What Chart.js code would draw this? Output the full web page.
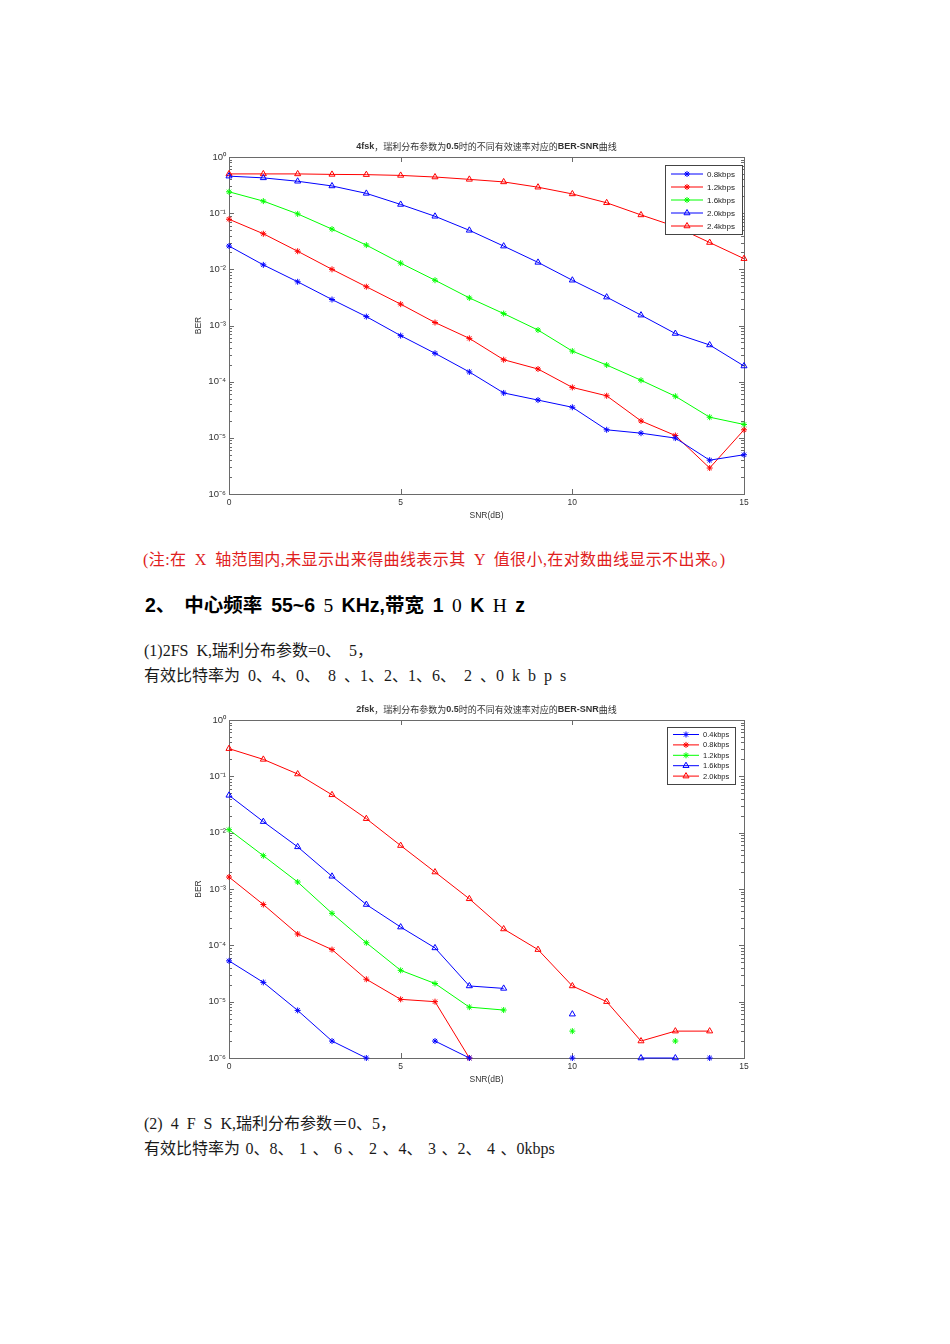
<!DOCTYPE html>
<html>
<head>
<meta charset="utf-8">
<script src="https://cdn.jsdelivr.net/npm/chart.js@4.4.1/dist/chart.umd.min.js"></script>
<style>
  body { margin: 0; background: #fff; width: 950px; height: 1344px; position: relative; overflow: hidden; }
  .t { position: absolute; white-space: pre; font-family: "Liberation Serif", "Noto Sans CJK SC", serif; font-size: 16px; line-height: 16px; word-spacing: 4px; color: #1a1a1a; }
  .h { font-family: "Liberation Sans", "Noto Sans CJK SC", sans-serif; font-weight: bold; font-size: 19.5px; line-height: 20px; word-spacing: 3.5px; color: #000; }
  .h .s { font-family: "Liberation Serif", serif; font-weight: normal; }
  .red { color: #e02020; letter-spacing: 0.4px; }
  .wrap { position: absolute; }
</style>
</head>
<body>

<div class="wrap" style="left:180px;top:136px;width:590px;height:392px"><canvas id="c1"></canvas></div>
<div class="wrap" style="left:180px;top:699px;width:590px;height:393px"><canvas id="c2"></canvas></div>

<div class="t red" style="left:143px;top:552px">(注:在 X 轴范围内,未显示出来得曲线表示其 Y 值很小,在对数曲线显示不出来。)</div>
<div class="t h" style="left:145px;top:595px">2、 中心频率 55~6<span class="s"> 5 </span>KHz,带宽 1<span class="s"> 0 </span>K<span class="s"> H </span>z</div>
<div class="t" style="left:144px;top:643px">(1)2FS K,瑞利分布参数=0、 5，</div>
<div class="t" style="left:144px;top:668px">有效比特率为 0、4、0、 8 、1、2、1、6、 2 、0 k b p s</div>
<div class="t" style="left:144px;top:1116px">(2) 4 F S K,瑞利分布参数＝0、5，</div>
<div class="t" style="left:144px;top:1141px;word-spacing:1.5px">有效比特率为 0、8、 1 、 6 、 2 、4、 3 、2、 4 、0kbps</div>

<script>
// SNR axis (dB)
const snrDb = [0, 1, 2, 3, 4, 5, 6, 7, 8, 9, 10, 11, 12, 13, 14, 15];

// 4fsk, Rayleigh 0.5
const rates4fsk = ['0.8kbps', '1.2kbps', '1.6kbps', '2.0kbps', '2.4kbps'];
const ber4_08 = [0.026, 0.012, 0.006, 0.0029, 0.00144, 0.00066, 0.00032, 0.000149, 6.3e-5, 4.7e-5, 3.5e-5, 1.39e-5, 1.21e-5, 9.9e-6, 4e-6, 5e-6];
const ber4_12 = [0.078, 0.043, 0.021, 0.01, 0.0049, 0.0024, 0.00113, 0.00059, 0.000246, 0.000168, 7.9e-5, 5.6e-5, 2e-5, 1.1e-5, 2.9e-6, 1.39e-5];
const ber4_16 = [0.24, 0.164, 0.097, 0.052, 0.027, 0.0129, 0.0064, 0.0031, 0.00163, 0.00083, 0.00035, 0.000198, 0.000106, 5.5e-5, 2.33e-5, 1.73e-5];
const ber4_20 = [0.456, 0.425, 0.37, 0.305, 0.225, 0.143, 0.088, 0.0495, 0.0259, 0.0133, 0.0064, 0.0032, 0.00153, 0.00072, 0.00045, 0.00019];
const ber4_24 = [0.5, 0.5, 0.5, 0.49, 0.485, 0.47, 0.44, 0.4, 0.36, 0.29, 0.22, 0.153, 0.093, 0.058, 0.03, 0.0155];

// 2fsk, Rayleigh 0.5 (null = not shown on the log axis)
const rates2fsk = ['0.4kbps', '0.8kbps', '1.2kbps', '1.6kbps', '2.0kbps'];
const ber2_04 = [5.3e-5, 2.2e-5, 7e-6, 2e-6, 1e-6, null, 2e-6, 1e-6, null, null, 1e-6, null, null, null, 1e-6, null];
const ber2_08 = [0.00163, 0.00053, 0.000159, 8.4e-5, 2.5e-5, 1.1e-5, 1e-5, 1e-6, null, null, null, null, null, null, null, null];
const ber2_12 = [0.0113, 0.0039, 0.00133, 0.00037, 0.000111, 3.6e-5, 2.1e-5, 8e-6, 7.1e-6, null, 3e-6, null, null, 2e-6, null, null];
const ber2_16 = [0.046, 0.0157, 0.0056, 0.00168, 0.00053, 0.000211, 9e-5, 1.9e-5, 1.72e-5, null, 6e-6, null, 1e-6, 1e-6, null, null];
const ber2_20 = [0.31, 0.2, 0.11, 0.047, 0.0177, 0.0059, 0.002, 0.00067, 0.000195, 8.4e-5, 1.9e-5, 1e-5, 2e-6, 3e-6, 3e-6, null];

const decades = [-6, -5, -4, -3, -2, -1, 0];

const seriesStyle = [
  { color: '#0000ff', point: 'star', r: 3 },
  { color: '#ff0000', point: 'star', r: 3 },
  { color: '#00ff00', point: 'star', r: 3 },
  { color: '#0000ff', point: 'triangle', r: 3.5 },
  { color: '#ff0000', point: 'triangle', r: 3.5 },
];

const AXIS = '#6a6a6a';
const SANS = '"Liberation Sans", Arial, sans-serif';
const SUP = { '-': '\u207B', '0': '\u2070', '1': '\u00B9', '2': '\u00B2', '3': '\u00B3', '4': '\u2074', '5': '\u2075', '6': '\u2076', '7': '\u2077', '8': '\u2078', '9': '\u2079' };
const pow10Label = v => '10' + String(Math.round(Math.log10(v))).split('').map(c => SUP[c]).join('');

// box + inside ticks like a matlab axes
const axesBox = {
  id: 'axesBox',
  beforeDatasetsDraw(chart) {
    const { ctx, chartArea: a, scales: { x, y } } = chart;
    ctx.save();
    ctx.strokeStyle = AXIS;
    ctx.lineWidth = 1;
    ctx.beginPath();
    for (const t of x.ticks) {
      const px = Math.round(x.getPixelForValue(t.value)) + 0.5;
      ctx.moveTo(px, a.bottom); ctx.lineTo(px, a.bottom - 5);
      ctx.moveTo(px, a.top); ctx.lineTo(px, a.top + 5);
    }
    for (const e of decades) {
      for (let m = 1; m <= 9; m++) {
        const v = m * Math.pow(10, e);
        if (v > 1) break;
        const len = m === 1 ? 5 : 3;
        const py = Math.round(y.getPixelForValue(v)) + 0.5;
        ctx.moveTo(a.left, py); ctx.lineTo(a.left + len, py);
        ctx.moveTo(a.right, py); ctx.lineTo(a.right - len, py);
      }
    }
    ctx.stroke();
    ctx.strokeRect(Math.round(a.left) + 0.5, Math.round(a.top) + 0.5, Math.round(a.right - a.left), Math.round(a.bottom - a.top));
    ctx.restore();
  }
};

// title with bold latin runs
const runTitle = {
  id: 'runTitle',
  afterDraw(chart, args, opts) {
    const { ctx, chartArea: a } = chart;
    const fonts = opts.runs.map(r => (r[1] ? 'bold ' : '') + opts.size + 'px ' + (r[1] ? SANS : '"Noto Sans CJK SC", sans-serif'));
    ctx.save();
    let w = 0;
    opts.runs.forEach((r, i) => { ctx.font = fonts[i]; w += ctx.measureText(r[0]).width; });
    let x = (a.left + a.right) / 2 - w / 2;
    const y = a.top - opts.gap;
    ctx.fillStyle = '#333';
    ctx.textBaseline = 'middle';
    opts.runs.forEach((r, i) => {
      ctx.font = fonts[i];
      ctx.fillText(r[0], x, y);
      x += ctx.measureText(r[0]).width;
    });
    ctx.restore();
  }
};

// legend box inside the plot, top right
const boxLegend = {
  id: 'boxLegend',
  afterDatasetsDraw(chart, args, o) {
    const { ctx, chartArea: a } = chart;
    const bx = a.right - o.right - o.width, by = a.top + o.top;
    ctx.save();
    ctx.fillStyle = '#fff';
    ctx.fillRect(bx, by, o.width, o.height);
    ctx.strokeStyle = '#444';
    ctx.lineWidth = 1;
    ctx.strokeRect(Math.round(bx) + 0.5, Math.round(by) + 0.5, o.width, o.height);
    ctx.font = o.size + 'px ' + SANS;
    ctx.textBaseline = 'middle';
    chart.data.datasets.forEach((ds, i) => {
      const ry = by + o.first + i * o.row;
      ctx.strokeStyle = ds.borderColor;
      ctx.beginPath();
      ctx.moveTo(bx + o.lineFrom, ry); ctx.lineTo(bx + o.lineTo, ry);
      ctx.stroke();
      const mx = bx + (o.lineFrom + o.lineTo) / 2;
      ctx.fillStyle = 'rgba(0,0,0,0)';
      Chart.helpers.drawPoint(ctx, { pointStyle: ds.pointStyle, radius: ds.pointRadius, rotation: 0, borderWidth: 1 }, mx, ry);
      ctx.fillStyle = '#222';
      ctx.fillText(ds.label, bx + o.text, ry + 0.5);
    });
    ctx.restore();
  }
};

function makeChart(id, names, series, titleRuns, legendOpts) {
  const datasets = series.map((vals, i) => ({
    label: names[i],
    data: snrDb.map((x, k) => ({ x: x, y: vals[k] })),
    borderColor: seriesStyle[i].color,
    backgroundColor: 'rgba(0,0,0,0)',
    pointBackgroundColor: 'rgba(0,0,0,0)',
    pointBorderColor: seriesStyle[i].color,
    pointStyle: seriesStyle[i].point,
    pointRadius: seriesStyle[i].r,
    pointBorderWidth: 1,
    borderWidth: 1,
    tension: 0,
    spanGaps: false,
    clip: false,
  }));

  return new Chart(document.getElementById(id).getContext('2d'), {
    type: 'line',
    data: { datasets },
    options: {
      responsive: true,
      maintainAspectRatio: false,
      animation: false,
      layout: { padding: { top: 21, right: 26, left: 0, bottom: 0 } },
      plugins: {
        legend: { display: false },
        tooltip: { enabled: false },
        runTitle: { runs: titleRuns, size: 9, gap: 10 },
        boxLegend: legendOpts,
      },
      scales: {
        x: {
          type: 'linear', min: 0, max: 15,
          afterBuildTicks: s => { s.ticks = [0, 5, 10, 15].map(v => ({ value: v })); },
          afterFit: s => { s.height = 34; },
          grid: { display: false, drawTicks: false },
          border: { display: false },
          ticks: { padding: 4, color: '#333', font: { family: SANS, size: 8.5 } },
          title: { display: true, text: 'SNR(dB)', color: '#333', font: { family: SANS, size: 8.5 }, padding: { top: 0, bottom: 7 } },
        },
        y: {
          type: 'logarithmic', min: 1e-6, max: 1,
          afterBuildTicks: s => { s.ticks = decades.map(e => ({ value: Math.pow(10, e) })); },
          afterFit: s => { s.width = 49; },
          grid: { display: false, drawTicks: false },
          border: { display: false },
          ticks: { padding: 3, color: '#333', font: { family: SANS, size: 9.5 }, callback: v => pow10Label(v) },
          title: { display: true, text: 'BER', color: '#333', font: { family: SANS, size: 8.5 }, padding: { top: 14, bottom: 0 } },
        },
      },
    },
    plugins: [axesBox, runTitle, boxLegend],
  });
}

makeChart('c1', rates4fsk, [ber4_08, ber4_12, ber4_16, ber4_20, ber4_24],
  [['4fsk', true], ['，瑞利分布参数为', false], ['0.5', true], ['时的不同有效速率对应的', false], ['BER-SNR', true], ['曲线', false]],
  { right: 2, top: 8, width: 77, height: 69, first: 9, row: 13, lineFrom: 6, lineTo: 38, text: 42, size: 8 });

makeChart('c2', rates2fsk, [ber2_04, ber2_08, ber2_12, ber2_16, ber2_20],
  [['2fsk', true], ['，瑞利分布参数为', false], ['0.5', true], ['时的不同有效速率对应的', false], ['BER-SNR', true], ['曲线', false]],
  { right: 9, top: 7, width: 68, height: 57, first: 7.5, row: 10.4, lineFrom: 6, lineTo: 32, text: 36, size: 7.5 });
</script>
</body>
</html>
